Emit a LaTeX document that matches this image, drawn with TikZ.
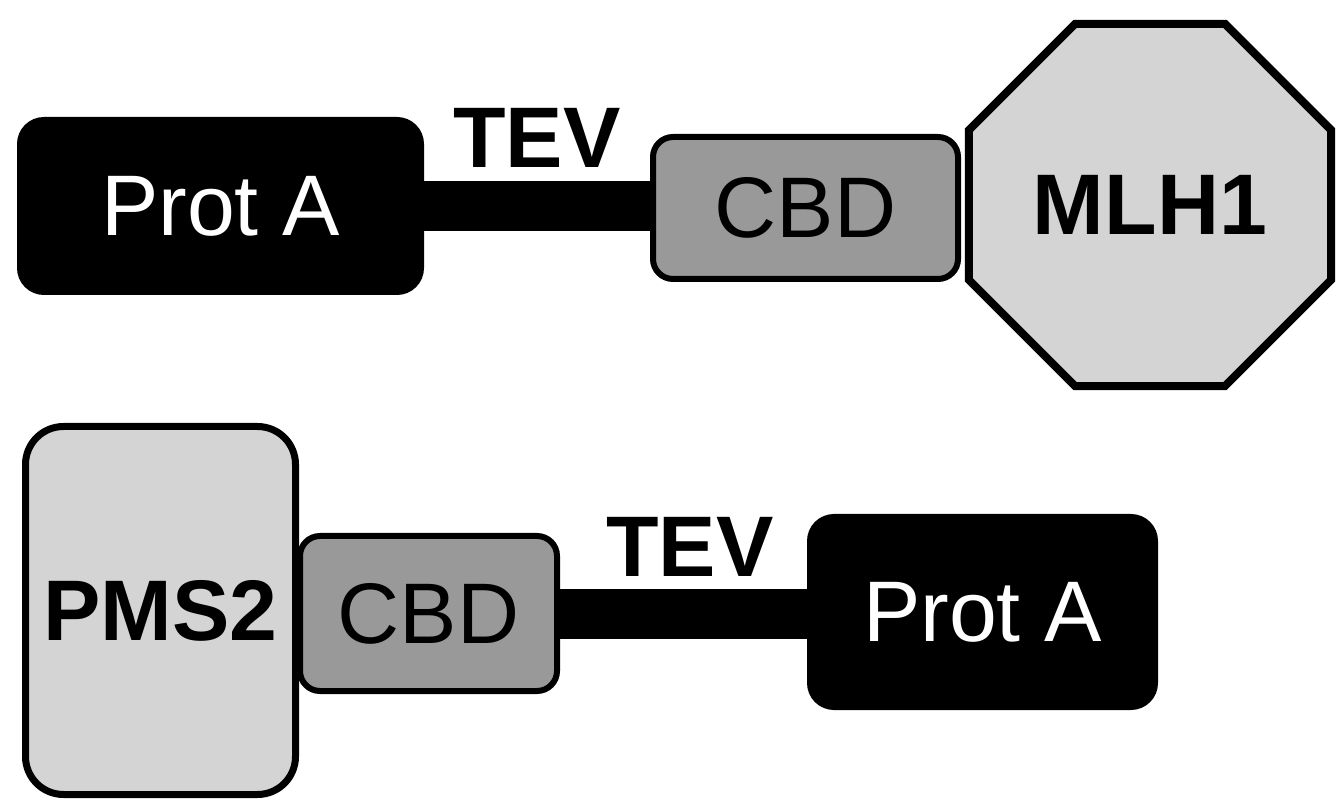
\documentclass[tikz,border=0pt]{standalone}
\usepackage{fontspec}
\setmainfont{Liberation Sans}
\usetikzlibrary{shapes.geometric}
\definecolor{cbdgray}{HTML}{999999}
\definecolor{lightg}{HTML}{D4D4D4}
\begin{document}
\begin{tikzpicture}[x=0.5pt,y=-0.5pt,
  every node/.style={inner sep=0pt, outer sep=0pt},
  bigfont/.style={font=\fontsize{43}{50}\selectfont},
  boldfont/.style={font=\fontsize{43}{50}\selectfont\bfseries},
  protbox/.style={rectangle, rounded corners=13pt, fill=black, draw=black, line width=1pt, text=white, bigfont},
  cbdbox/.style={rectangle, rounded corners=10pt, fill=cbdgray, draw=black, line width=3pt, bigfont},
  pmsbox/.style={rectangle, rounded corners=19pt, fill=lightg, draw=black, line width=3.5pt, boldfont},
  octbox/.style={regular polygon, regular polygon sides=8, minimum size=196pt, fill=lightg, draw=black, line width=4pt, boldfont},
  linker/.style={line width=25pt, draw=black},
  tevlabel/.style={anchor=base, boldfont}
]
\useasboundingbox (0,0) rectangle (1338,806);
% top row
\node[protbox, minimum width=202.5pt, minimum height=88pt] (protA1) at (220.5,206) {Prot A};
\node[cbdbox, minimum width=152.5pt, minimum height=71pt] (cbd1) at (805.5,208) {CBD};
\node[octbox] (mlh1) at (1150,205) {MLH1};
\draw[linker] (protA1.east) -- (protA1.east -| cbd1.west);
\node[tevlabel] (tev1) at (537,168) {TEV};
% bottom row
\node[pmsbox, minimum width=135pt, minimum height=184pt] (pms2) at (160.5,610.5) {PMS2};
\node[cbdbox, minimum width=128.5pt, minimum height=77.5pt] (cbd2) at (428.5,613.5) {CBD};
\node[protbox, minimum width=174.5pt, minimum height=97pt] (protA2) at (982.5,612) {Prot A};
\draw[linker] (cbd2.east) -- (cbd2.east -| protA2.west);
\node[tevlabel] (tev2) at (690,576) {TEV};
\end{tikzpicture}
\end{document}
